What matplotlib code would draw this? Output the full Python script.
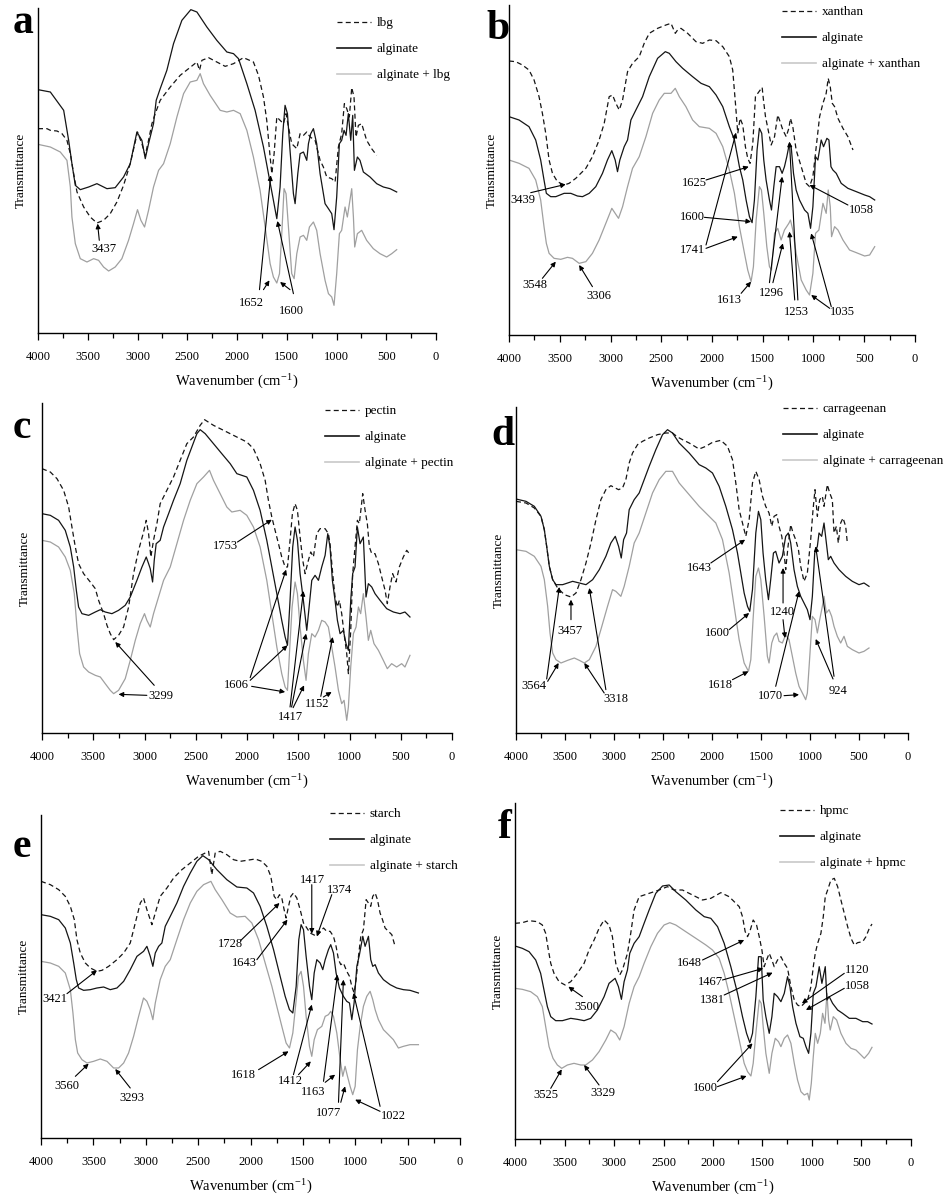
import matplotlib
matplotlib.use("Agg")
import matplotlib.pyplot as plt
from matplotlib.ticker import MultipleLocator
from matplotlib.lines import Line2D

plt.rcParams['font.family'] = ['Liberation Serif', 'DejaVu Serif']
plt.rcParams['mathtext.fontset'] = 'stix'

# FTIR spectra, (wavenumber cm-1, transmittance in arbitrary units)

# panel a - locust bean gum
a_lbg = [(4000, 61.3), (3910, 61.3), (3876, 60.8), (3809, 60.6), (3759, 59.8), (3709, 57.8), (3675, 53.8), (3642, 47.8),
         (3608, 42.3), (3541, 37.8), (3475, 34.8), (3408, 33.0), (3341, 33.8), (3274, 35.8), (3207, 39.3), (3140, 44.3),
         (3073, 50.8), (3000, 60.3), (2956, 56.8), (2922, 53.3), (2889, 57.8), (2855, 62.8), (2822, 65.8), (2772, 69.8),
         (2671, 73.8), (2571, 77.3), (2487, 79.3), (2403, 81.3), (2377, 78.8), (2353, 81.8), (2286, 82.6), (2203, 81.3),
         (2119, 80.0), (2035, 80.8), (1935, 82.6), (1835, 81.3), (1784, 77.3), (1734, 70.8), (1701, 63.8), (1667, 52.8),
         (1650, 47.8), (1627, 53.8), (1600, 64.8), (1567, 63.8), (1533, 62.8), (1507, 65.8), (1483, 61.8), (1450, 56.8),
         (1399, 55.3), (1366, 59.8), (1332, 59.3), (1299, 60.3), (1265, 58.8), (1215, 57.8), (1165, 51.8), (1132, 49.8),
         (1098, 46.8), (1048, 46.3), (1014, 45.3), (981, 55.8), (948, 59.8), (921, 68.8), (897, 67.3), (871, 64.8),
         (847, 73.6), (824, 70.8), (804, 58.8), (780, 62.3), (747, 62.8), (697, 57.8), (647, 55.3), (596, 53.3)]
a_alginate = [(4000, 73.0), (3876, 72.3), (3742, 66.8), (3692, 57.8), (3659, 50.8), (3625, 44.3), (3575, 43.0), (3491, 43.8),
              (3408, 44.8), (3307, 43.3), (3224, 43.6), (3140, 46.8), (3073, 50.8), (3006, 60.3), (2956, 57.8), (2922, 52.3),
              (2889, 56.8), (2839, 62.8), (2812, 69.8), (2772, 73.3), (2705, 78.8), (2638, 86.8), (2554, 93.8), (2464, 97.0),
              (2403, 96.3), (2303, 91.8), (2203, 87.8), (2102, 84.3), (2035, 83.8), (1985, 82.3), (1901, 74.8), (1818, 66.8),
              (1734, 55.8), (1684, 47.8), (1634, 39.8), (1600, 34.3), (1567, 43.8), (1540, 59.8), (1517, 68.3), (1493, 65.8),
              (1467, 54.8), (1433, 41.8), (1416, 38.8), (1389, 47.8), (1366, 53.8), (1332, 54.3), (1299, 51.8), (1282, 56.8),
              (1259, 59.8), (1232, 61.3), (1199, 56.8), (1165, 47.8), (1115, 38.8), (1081, 37.3), (1048, 35.8), (1025, 31.0),
              (998, 40.8), (971, 56.8), (948, 57.8), (924, 60.8), (904, 59.3), (881, 65.8), (857, 57.8), (837, 65.3),
              (820, 48.8), (790, 52.8), (764, 51.8), (730, 48.3), (663, 46.8), (596, 44.8), (529, 43.8), (462, 43.3), (395, 42.3)]
a_blend = [(4000, 56.6), (3876, 55.8), (3776, 54.3), (3709, 51.8), (3675, 43.8), (3659, 34.8), (3625, 26.8), (3575, 22.3),
           (3508, 21.3), (3441, 22.3), (3391, 21.8), (3341, 19.8), (3290, 18.6), (3224, 19.8), (3157, 22.3), (3090, 27.8),
           (3040, 32.8), (3000, 37.0), (2966, 33.8), (2929, 31.8), (2889, 36.8), (2839, 43.8), (2788, 48.8), (2738, 50.8),
           (2671, 56.8), (2604, 64.8), (2537, 71.8), (2470, 75.3), (2403, 75.8), (2370, 77.8), (2337, 74.8), (2270, 71.3),
           (2169, 66.8), (2102, 66.3), (2035, 66.8), (1968, 65.8), (1901, 60.8), (1835, 52.8), (1768, 42.8), (1717, 31.8),
           (1667, 20.8), (1634, 16.8), (1600, 15.0), (1573, 17.8), (1550, 29.8), (1527, 43.3), (1507, 41.8), (1483, 31.8),
           (1450, 17.8), (1426, 16.3), (1399, 23.8), (1366, 28.8), (1332, 29.3), (1299, 27.8), (1272, 31.8), (1232, 33.3),
           (1199, 30.8), (1165, 23.8), (1115, 15.8), (1081, 11.8), (1048, 10.8), (1025, 8.3), (998, 17.8), (971, 29.8),
           (948, 30.8), (914, 37.8), (891, 34.8), (847, 43.3), (830, 34.8), (817, 25.8), (790, 29.8), (747, 30.8),
           (697, 27.8), (630, 25.3), (563, 23.8), (496, 22.8), (445, 23.8), (395, 25.0)]

# panel b - xanthan
b_xanthan = [(4000, 82.2), (3934, 82.0), (3868, 81.0), (3803, 79.5), (3753, 76.5), (3704, 71.5), (3671, 66.5), (3638, 60.5),
             (3605, 52.5), (3572, 48.5), (3523, 46.0), (3457, 45.0), (3408, 45.5), (3342, 47.0), (3243, 50.0), (3178, 53.5),
             (3112, 58.5), (3062, 63.5), (3013, 71.5), (2980, 72.0), (2947, 69.5), (2914, 67.5), (2881, 70.5), (2832, 79.0),
             (2783, 81.5), (2717, 83.5), (2668, 87.5), (2618, 90.5), (2536, 92.0), (2454, 93.0), (2404, 93.5), (2362, 90.5),
             (2339, 91.5), (2306, 92.0), (2240, 90.5), (2158, 88.0), (2092, 87.5), (2026, 88.5), (1960, 88.3), (1894, 86.5),
             (1829, 83.5), (1796, 79.5), (1769, 69.5), (1746, 60.5), (1723, 65.0), (1697, 63.0), (1671, 56.5), (1648, 53.0),
             (1625, 51.5), (1598, 57.5), (1572, 71.5), (1549, 72.5), (1506, 74.3), (1493, 70.5), (1473, 65.5), (1440, 60.5),
             (1417, 57.0), (1384, 59.5), (1352, 66.0), (1329, 64.0), (1302, 61.5), (1269, 59.5), (1243, 62.0), (1227, 65.0),
             (1204, 62.5), (1171, 55.5), (1121, 50.5), (1072, 45.5), (1039, 44.5), (1006, 47.5), (973, 56.5), (940, 65.5),
             (907, 69.5), (875, 72.5), (855, 77.0), (835, 74.5), (815, 69.5), (792, 68.5), (759, 65.0), (710, 62.0),
             (661, 59.5), (611, 55.5)]
b_alginate = [(4000, 65.5), (3901, 64.5), (3803, 62.5), (3737, 58.5), (3688, 52.5), (3655, 46.5), (3632, 42.5), (3589, 41.5),
              (3539, 41.5), (3457, 42.5), (3391, 42.5), (3326, 41.7), (3276, 41.5), (3210, 42.5), (3145, 44.5), (3079, 48.5),
              (3030, 52.5), (2987, 55.3), (2954, 52.5), (2931, 49.0), (2908, 52.5), (2865, 56.5), (2832, 58.5), (2799, 64.5),
              (2750, 67.5), (2684, 71.5), (2618, 77.5), (2536, 83.0), (2460, 85.0), (2421, 84.5), (2355, 82.0), (2289, 80.0),
              (2191, 77.5), (2108, 75.5), (2026, 74.5), (1960, 72.0), (1894, 68.5), (1829, 62.5), (1779, 58.5), (1730, 50.5),
              (1697, 46.5), (1664, 40.5), (1631, 35.5), (1605, 33.7), (1582, 40.5), (1556, 55.5), (1533, 62.0), (1510, 60.5),
              (1490, 52.5), (1467, 46.5), (1434, 40.5), (1414, 37.5), (1391, 44.5), (1368, 50.5), (1335, 50.5), (1309, 48.5),
              (1286, 50.5), (1263, 53.5), (1237, 57.5), (1220, 56.5), (1197, 48.5), (1171, 43.5), (1138, 40.5), (1088, 37.5),
              (1055, 36.5), (1029, 32.0), (1006, 38.5), (980, 53.5), (957, 52.5), (924, 58.5), (901, 56.5), (868, 59.0),
              (848, 58.5), (828, 50.5), (809, 49.5), (776, 48.5), (727, 45.5), (661, 44.0), (578, 43.0), (496, 42.0),
              (447, 41.5), (397, 40.5)]
b_blend = [(4000, 52.5), (3901, 51.5), (3803, 50.0), (3737, 46.5), (3688, 40.5), (3655, 32.5), (3632, 27.5), (3605, 24.5),
           (3556, 23.0), (3490, 22.7), (3424, 23.3), (3375, 23.0), (3309, 21.5), (3243, 22.0), (3178, 24.5), (3112, 28.5),
           (3046, 33.5), (2987, 38.0), (2954, 36.5), (2921, 35.0), (2881, 38.5), (2832, 44.5), (2783, 50.0), (2717, 53.5),
           (2651, 59.5), (2585, 66.5), (2520, 70.5), (2470, 72.5), (2404, 72.5), (2362, 74.0), (2322, 71.5), (2257, 68.5),
           (2191, 64.5), (2125, 62.5), (2026, 62.0), (1960, 60.5), (1894, 56.5), (1829, 49.5), (1779, 42.5), (1730, 32.5),
           (1680, 24.5), (1648, 19.5), (1615, 16.0), (1592, 20.5), (1565, 34.5), (1533, 44.5), (1513, 43.5), (1490, 36.5),
           (1460, 26.5), (1434, 20.5), (1414, 19.5), (1384, 30.5), (1352, 32.0), (1319, 28.5), (1286, 31.5), (1243, 33.5),
           (1227, 34.5), (1204, 31.5), (1171, 24.5), (1121, 16.5), (1072, 13.5), (1039, 12.0), (1006, 18.5), (980, 30.5),
           (947, 31.5), (907, 39.5), (875, 36.5), (855, 43.5), (835, 38.5), (822, 29.5), (792, 32.5), (759, 31.5),
           (710, 28.5), (645, 25.5), (578, 24.7), (496, 23.7), (447, 24.0), (397, 26.5)]

# panel c - pectin
c_pectin = [(4000, 79.3), (3919, 78.3), (3854, 76.3), (3789, 72.8), (3740, 67.8), (3708, 61.8), (3675, 55.8), (3643, 50.8),
            (3594, 47.8), (3529, 45.3), (3480, 43.3), (3448, 39.8), (3399, 35.8), (3366, 32.3), (3334, 29.8), (3301, 28.0),
            (3253, 29.3), (3204, 31.8), (3155, 37.8), (3107, 47.8), (3058, 54.8), (3009, 60.3), (2983, 63.8), (2960, 59.8),
            (2938, 52.8), (2912, 57.8), (2879, 62.8), (2847, 68.8), (2782, 72.8), (2717, 76.8), (2652, 81.8), (2587, 86.8),
            (2522, 88.8), (2457, 92.3), (2414, 94.0), (2327, 92.3), (2229, 90.8), (2132, 89.3), (2002, 87.3), (1937, 85.3),
            (1872, 80.8), (1823, 75.8), (1791, 69.8), (1758, 64.8), (1726, 60.8), (1693, 56.8), (1661, 52.8), (1628, 49.8),
            (1605, 49.8), (1580, 57.8), (1557, 65.8), (1531, 68.8), (1508, 66.8), (1482, 58.8), (1456, 51.8), (1433, 47.8),
            (1401, 51.8), (1378, 54.3), (1352, 52.8), (1320, 59.8), (1287, 61.3), (1238, 61.3), (1206, 59.8), (1190, 56.8),
            (1164, 47.8), (1141, 40.8), (1118, 37.8), (1099, 39.8), (1076, 35.8), (1053, 29.8), (1027, 23.8), (1011, 17.8),
            (988, 30.8), (969, 47.8), (946, 55.8), (923, 63.8), (904, 62.8), (871, 71.8), (848, 66.8), (826, 62.8),
            (806, 55.8), (783, 53.8), (751, 53.8), (718, 50.8), (686, 46.8), (653, 42.8), (631, 38.8), (605, 43.8),
            (579, 47.8), (546, 45.3), (514, 49.8), (475, 52.8), (442, 54.8), (416, 53.8)]
c_alginate = [(4000, 65.8), (3919, 65.3), (3838, 63.8), (3773, 60.8), (3724, 55.8), (3691, 49.8), (3665, 42.8), (3643, 37.8),
              (3610, 35.8), (3545, 35.3), (3480, 36.3), (3431, 37.0), (3383, 36.3), (3318, 35.8), (3253, 36.8), (3188, 38.3),
              (3139, 40.8), (3074, 45.8), (3025, 49.8), (2983, 52.8), (2960, 50.8), (2944, 49.3), (2921, 45.3), (2905, 51.8),
              (2886, 56.8), (2847, 57.8), (2814, 61.8), (2765, 65.8), (2717, 69.8), (2652, 74.8), (2587, 81.8), (2538, 85.8),
              (2489, 89.8), (2457, 91.0), (2408, 89.8), (2327, 86.8), (2246, 83.8), (2164, 80.8), (2099, 77.8), (2002, 76.8),
              (1937, 72.8), (1872, 66.8), (1807, 57.8), (1758, 49.8), (1709, 41.8), (1661, 33.8), (1628, 28.8), (1605, 26.3),
              (1580, 39.8), (1554, 55.8), (1531, 61.8), (1508, 57.8), (1482, 47.8), (1450, 39.8), (1417, 30.8), (1394, 37.8),
              (1368, 45.8), (1336, 47.3), (1303, 45.8), (1271, 49.8), (1238, 53.3), (1212, 59.8), (1190, 55.8), (1167, 45.8),
              (1141, 39.8), (1118, 33.8), (1092, 29.8), (1060, 30.8), (1034, 26.8), (1011, 24.8), (988, 39.8), (969, 47.8),
              (946, 49.8), (923, 61.8), (897, 56.8), (865, 58.8), (839, 40.8), (816, 44.8), (783, 43.8), (751, 41.8),
              (702, 39.8), (637, 37.3), (572, 36.3), (507, 35.8), (459, 36.3), (410, 34.8)]
c_blend = [(4000, 57.8), (3919, 57.3), (3838, 55.8), (3773, 52.8), (3724, 48.8), (3685, 41.8), (3659, 31.8), (3633, 23.8),
           (3594, 19.8), (3545, 18.3), (3480, 17.3), (3431, 16.8), (3383, 14.8), (3334, 12.8), (3301, 11.8), (3253, 12.8),
           (3188, 16.3), (3139, 21.8), (3090, 27.8), (3042, 32.8), (3000, 35.8), (2977, 33.8), (2944, 31.8), (2912, 35.8),
           (2863, 40.8), (2814, 45.8), (2749, 49.8), (2684, 56.8), (2619, 63.8), (2554, 69.8), (2489, 74.8), (2424, 76.8),
           (2366, 78.8), (2327, 75.8), (2262, 71.8), (2197, 67.8), (2148, 66.3), (2067, 66.8), (2002, 65.3), (1937, 61.8),
           (1872, 55.8), (1807, 45.8), (1758, 35.8), (1709, 25.8), (1661, 17.8), (1628, 13.8), (1605, 12.8), (1586, 23.8),
           (1560, 37.8), (1531, 45.3), (1508, 41.8), (1482, 31.8), (1450, 21.8), (1424, 15.8), (1401, 23.8), (1368, 29.8),
           (1336, 28.8), (1303, 30.8), (1271, 33.8), (1238, 33.3), (1206, 31.8), (1173, 25.8), (1141, 19.8), (1108, 12.8),
           (1076, 8.8), (1053, 9.8), (1027, 3.8), (1011, 7.8), (988, 19.8), (962, 29.8), (936, 31.8), (913, 37.8),
           (891, 35.8), (865, 41.8), (839, 34.8), (816, 27.8), (793, 30.8), (761, 26.8), (718, 24.8), (670, 21.8),
           (631, 19.3), (589, 20.8), (540, 19.8), (491, 20.8), (459, 19.8), (410, 23.3)]

# panel d - carrageenan
d_carrageenan = [(4000, 69.5), (3898, 69.0), (3813, 67.5), (3745, 65.0), (3711, 61.0), (3687, 56.0), (3660, 50.0), (3626, 46.0),
                 (3575, 43.5), (3507, 41.5), (3439, 40.8), (3388, 42.0), (3337, 46.0), (3286, 51.0), (3235, 57.0), (3184, 64.0),
                 (3134, 70.0), (3083, 73.0), (3032, 74.2), (2987, 73.5), (2953, 73.0), (2913, 73.5), (2879, 76.0), (2845, 81.0),
                 (2811, 84.0), (2760, 86.5), (2709, 87.5), (2641, 88.5), (2556, 89.5), (2471, 90.0), (2403, 90.0), (2352, 88.8),
                 (2301, 88.0), (2233, 87.0), (2131, 85.2), (2063, 86.0), (1995, 87.2), (1910, 87.8), (1842, 86.0), (1791, 82.0),
                 (1757, 75.0), (1723, 67.0), (1689, 63.0), (1655, 59.0), (1621, 64.0), (1587, 75.0), (1553, 78.5), (1519, 76.0),
                 (1485, 71.0), (1452, 68.0), (1418, 66.0), (1390, 62.0), (1367, 65.0), (1339, 65.5), (1316, 62.0), (1288, 59.0),
                 (1265, 54.0), (1248, 49.0), (1224, 56.0), (1197, 62.5), (1173, 60.0), (1146, 58.0), (1118, 55.0), (1095, 50.0),
                 (1061, 45.5), (1027, 48.0), (993, 58.0), (969, 67.0), (949, 73.0), (925, 65.0), (901, 70.0), (874, 71.0),
                 (857, 68.0), (823, 74.5), (799, 72.0), (772, 70.0), (755, 60.0), (731, 62.0), (711, 57.0), (687, 63.0),
                 (663, 64.5), (636, 62.0), (619, 57.0)]
d_alginate = [(4000, 70.2), (3898, 69.5), (3813, 68.0), (3745, 65.0), (3711, 61.0), (3687, 56.0), (3660, 50.0), (3626, 46.0),
              (3592, 44.5), (3524, 44.5), (3422, 45.5), (3354, 45.0), (3286, 44.5), (3218, 46.0), (3150, 49.0), (3083, 53.0),
              (3032, 57.0), (2987, 59.0), (2953, 56.0), (2926, 52.5), (2902, 58.0), (2872, 60.0), (2845, 67.0), (2794, 70.0),
              (2743, 72.0), (2692, 76.0), (2641, 80.0), (2573, 85.0), (2505, 89.5), (2454, 91.0), (2403, 90.0), (2335, 87.0),
              (2233, 84.0), (2131, 80.5), (2063, 79.5), (1995, 78.0), (1927, 74.0), (1859, 68.0), (1791, 61.0), (1740, 54.0),
              (1706, 48.0), (1672, 42.0), (1638, 38.0), (1615, 36.5), (1587, 43.0), (1553, 60.0), (1526, 66.5), (1502, 64.0),
              (1479, 54.0), (1452, 46.0), (1424, 40.0), (1401, 46.0), (1373, 54.0), (1350, 54.5), (1316, 51.0), (1282, 53.0),
              (1248, 59.0), (1221, 60.0), (1197, 57.0), (1163, 49.0), (1129, 44.0), (1095, 41.0), (1061, 39.0), (1027, 37.0),
              (1000, 34.0), (976, 41.0), (952, 54.0), (925, 56.0), (908, 60.0), (881, 59.0), (857, 63.0), (833, 57.0),
              (813, 52.0), (789, 53.0), (755, 51.0), (704, 49.0), (636, 47.0), (568, 45.5), (500, 44.5), (449, 45.0),
              (398, 44.0)]
d_blend = [(4000, 55.0), (3898, 54.5), (3813, 53.0), (3745, 50.0), (3711, 46.0), (3677, 38.0), (3653, 30.0), (3626, 24.0),
           (3592, 22.0), (3541, 21.0), (3473, 21.8), (3405, 22.5), (3354, 21.8), (3303, 21.0), (3252, 22.0), (3184, 26.0),
           (3134, 31.0), (3066, 38.0), (3015, 43.0), (2981, 42.5), (2930, 41.0), (2896, 44.0), (2845, 50.0), (2794, 57.0),
           (2743, 60.0), (2675, 66.0), (2607, 72.0), (2539, 76.0), (2471, 78.5), (2403, 78.5), (2335, 75.0), (2233, 71.5),
           (2131, 68.0), (2029, 65.0), (1961, 63.0), (1893, 58.0), (1825, 48.0), (1774, 38.0), (1723, 28.0), (1672, 21.0),
           (1628, 18.5), (1604, 22.0), (1581, 34.0), (1553, 47.0), (1526, 49.5), (1502, 46.0), (1468, 35.0), (1435, 23.0),
           (1418, 21.0), (1390, 27.0), (1367, 29.0), (1339, 30.0), (1316, 27.5), (1282, 27.0), (1248, 29.5), (1214, 28.0),
           (1180, 23.0), (1146, 18.0), (1112, 14.0), (1078, 12.0), (1044, 10.0), (1027, 12.0), (1000, 24.0), (976, 35.0),
           (949, 34.0), (925, 30.0), (901, 34.0), (874, 38.0), (857, 41.0), (833, 36.0), (806, 37.0), (779, 35.0),
           (755, 32.0), (721, 29.0), (687, 27.0), (653, 29.0), (619, 26.0), (568, 25.0), (500, 24.0), (449, 24.5),
           (398, 25.5)]

# panel e - starch
e_starch = [(4000, 77.0), (3911, 76.0), (3831, 74.5), (3768, 72.5), (3720, 69.5), (3682, 65.5), (3657, 59.5), (3625, 55.5),
            (3577, 52.5), (3529, 51.0), (3466, 50.0), (3418, 50.3), (3354, 51.5), (3275, 53.5), (3211, 55.5), (3148, 58.5),
            (3100, 64.5), (3052, 70.5), (3021, 72.0), (2989, 68.5), (2941, 64.0), (2909, 67.5), (2862, 72.5), (2798, 75.0),
            (2734, 78.0), (2655, 80.5), (2575, 82.5), (2496, 84.5), (2432, 85.5), (2400, 86.0), (2369, 79.0), (2337, 85.5),
            (2289, 86.0), (2226, 85.0), (2162, 83.5), (2098, 83.0), (2035, 83.3), (1955, 83.7), (1892, 83.0), (1844, 81.5),
            (1806, 78.5), (1774, 72.5), (1749, 71.5), (1723, 73.0), (1701, 72.0), (1679, 68.5), (1660, 66.0), (1637, 69.5),
            (1615, 72.5), (1590, 73.5), (1558, 72.0), (1526, 68.5), (1494, 64.5), (1462, 63.0), (1431, 61.5), (1399, 61.0),
            (1367, 60.5), (1335, 62.0), (1303, 63.0), (1272, 62.0), (1240, 62.0), (1208, 60.5), (1183, 57.5), (1160, 53.5),
            (1138, 52.0), (1113, 52.5), (1081, 50.0), (1055, 48.5), (1033, 45.5), (1011, 43.5), (992, 47.5), (969, 54.5),
            (947, 60.5), (922, 62.5), (896, 71.5), (874, 70.5), (852, 69.5), (833, 72.5), (810, 73.5), (788, 71.5),
            (763, 67.5), (740, 65.5), (715, 63.0), (683, 62.0), (651, 61.0), (620, 57.5)]
e_alginate = [(4000, 67.0), (3911, 66.5), (3831, 65.5), (3768, 63.0), (3720, 58.5), (3688, 52.5), (3663, 47.5), (3641, 45.0),
              (3593, 44.3), (3529, 44.5), (3466, 45.0), (3402, 45.3), (3339, 44.5), (3275, 45.0), (3211, 47.0), (3148, 50.5),
              (3084, 54.5), (3021, 56.0), (2989, 57.5), (2957, 54.5), (2932, 51.5), (2909, 55.5), (2877, 57.5), (2846, 58.5),
              (2814, 63.5), (2766, 66.5), (2703, 70.5), (2639, 75.5), (2575, 79.5), (2512, 83.0), (2455, 84.7), (2400, 83.5),
              (2321, 80.5), (2226, 77.5), (2130, 75.3), (2035, 75.0), (1971, 73.5), (1908, 69.5), (1844, 63.5), (1780, 56.5),
              (1717, 48.5), (1669, 42.5), (1628, 38.5), (1596, 37.5), (1564, 45.5), (1539, 59.5), (1517, 64.0), (1494, 62.5),
              (1469, 54.5), (1437, 45.5), (1415, 41.5), (1392, 49.5), (1367, 53.5), (1335, 52.5), (1310, 50.5), (1287, 53.5),
              (1256, 56.5), (1234, 58.0), (1208, 55.5), (1183, 49.5), (1151, 45.0), (1113, 42.5), (1081, 41.0), (1055, 40.5),
              (1033, 35.5), (1011, 40.5), (985, 51.5), (960, 55.0), (928, 60.5), (906, 57.5), (874, 60.5), (852, 53.5),
              (833, 51.5), (810, 52.0), (779, 49.5), (731, 47.5), (667, 46.0), (604, 45.0), (540, 44.5), (477, 44.3),
              (397, 43.5)]
e_blend = [(4000, 53.0), (3911, 52.5), (3831, 51.5), (3768, 49.5), (3720, 44.5), (3695, 37.5), (3672, 29.5), (3650, 25.5),
           (3609, 23.5), (3561, 22.5), (3498, 23.0), (3434, 23.7), (3370, 23.0), (3307, 21.0), (3259, 21.0), (3211, 22.5),
           (3164, 25.5), (3116, 30.5), (3068, 36.5), (3021, 42.0), (2989, 41.0), (2957, 38.5), (2932, 35.5), (2909, 40.5),
           (2862, 47.5), (2814, 51.5), (2766, 53.5), (2703, 59.5), (2639, 65.5), (2575, 70.5), (2512, 74.0), (2448, 76.0),
           (2378, 77.0), (2337, 74.5), (2273, 71.5), (2194, 67.5), (2130, 66.3), (2051, 66.5), (1987, 64.5), (1923, 59.5),
           (1860, 52.5), (1796, 45.5), (1749, 39.5), (1701, 33.5), (1660, 28.5), (1628, 27.0), (1596, 31.5), (1570, 39.5),
           (1542, 48.5), (1517, 50.0), (1494, 45.5), (1469, 36.5), (1437, 27.5), (1415, 24.5), (1392, 29.5), (1361, 32.5),
           (1319, 33.5), (1287, 36.5), (1256, 37.0), (1234, 38.0), (1208, 36.5), (1176, 31.5), (1144, 23.5), (1119, 18.5),
           (1097, 21.5), (1074, 18.5), (1049, 15.5), (1024, 13.0), (1001, 15.5), (979, 26.5), (953, 33.5), (922, 39.5),
           (890, 42.5), (858, 44.0), (833, 41.5), (810, 38.5), (779, 35.5), (731, 32.5), (683, 31.0), (636, 29.5),
           (588, 27.0), (540, 27.5), (477, 28.0), (397, 28.0)]

# panel f - hpmc
f_hpmc = [(4000, 64.7), (3926, 64.9), (3858, 65.5), (3774, 65.2), (3724, 64.2), (3690, 61.7), (3663, 56.7), (3639, 52.7),
          (3606, 49.7), (3555, 47.2), (3494, 46.2), (3437, 47.2), (3370, 49.7), (3302, 52.7), (3252, 56.7), (3201, 59.7),
          (3151, 63.2), (3100, 65.7), (3050, 64.2), (3016, 60.7), (2982, 52.7), (2942, 49.2), (2915, 50.7), (2864, 55.7),
          (2831, 61.7), (2797, 68.7), (2746, 72.7), (2645, 73.7), (2544, 74.7), (2460, 75.7), (2393, 74.7), (2308, 74.7),
          (2207, 73.2), (2106, 71.7), (2022, 72.2), (1921, 73.9), (1837, 72.7), (1735, 69.7), (1702, 66.7), (1675, 62.2),
          (1651, 60.7), (1628, 62.2), (1594, 65.7), (1560, 64.2), (1533, 60.7), (1506, 56.7), (1483, 51.7), (1459, 53.7),
          (1432, 55.7), (1405, 53.7), (1382, 51.7), (1348, 53.7), (1314, 54.7), (1280, 52.7), (1247, 51.2), (1213, 45.7),
          (1179, 41.7), (1146, 40.2), (1112, 39.7), (1078, 40.7), (1044, 41.7), (1011, 45.7), (987, 51.7), (967, 55.7),
          (943, 58.7), (910, 61.7), (886, 66.7), (866, 72.7), (842, 74.7), (809, 77.7), (775, 78.2), (741, 75.7),
          (708, 71.7), (674, 67.7), (640, 63.7), (606, 60.2), (573, 58.2), (539, 58.9), (488, 59.2), (455, 60.7),
          (421, 63.2), (394, 64.5)]
f_alginate = [(4000, 57.9), (3926, 57.2), (3858, 56.2), (3791, 53.7), (3741, 49.7), (3707, 44.7), (3673, 39.7), (3639, 36.7),
              (3589, 35.5), (3521, 35.5), (3437, 36.2), (3370, 35.9), (3302, 35.5), (3235, 36.2), (3168, 38.7), (3100, 42.7),
              (3050, 46.7), (2989, 48.2), (2955, 45.7), (2925, 41.9), (2898, 47.2), (2864, 50.7), (2841, 55.7), (2797, 58.7),
              (2746, 60.7), (2696, 64.7), (2645, 68.7), (2578, 73.7), (2510, 75.9), (2443, 76.2), (2376, 74.2), (2275, 71.7),
              (2173, 68.7), (2089, 66.7), (2022, 66.2), (1954, 63.7), (1887, 58.7), (1820, 51.7), (1752, 43.7), (1702, 36.7),
              (1661, 31.7), (1628, 28.9), (1601, 31.7), (1567, 42.7), (1540, 54.7), (1513, 54.7), (1493, 41.7), (1466, 36.7),
              (1432, 31.7), (1405, 36.7), (1382, 43.7), (1348, 42.7), (1314, 41.2), (1280, 43.7), (1247, 48.7), (1223, 45.7),
              (1196, 39.7), (1162, 34.7), (1122, 30.7), (1088, 30.2), (1061, 27.7), (1034, 25.7), (1011, 31.7), (987, 43.7),
              (960, 45.7), (927, 51.7), (900, 46.7), (866, 51.7), (849, 41.7), (826, 42.7), (792, 40.7), (741, 38.7),
              (691, 37.7), (623, 36.2), (556, 36.2), (488, 35.2), (438, 35.2), (394, 34.5)]
f_blend = [(4000, 45.2), (3926, 44.9), (3842, 44.2), (3774, 42.7), (3724, 39.7), (3690, 33.7), (3656, 27.7), (3616, 24.2),
           (3572, 22.2), (3528, 21.2), (3471, 22.2), (3404, 22.7), (3336, 22.2), (3286, 22.2), (3218, 23.7), (3151, 26.2),
           (3083, 29.7), (3033, 32.7), (2982, 31.7), (2942, 29.7), (2898, 33.7), (2847, 40.7), (2797, 45.7), (2746, 48.7),
           (2696, 52.7), (2628, 57.7), (2561, 61.7), (2494, 64.2), (2436, 64.9), (2376, 64.2), (2275, 62.2), (2173, 60.2),
           (2072, 58.2), (2005, 56.7), (1938, 54.2), (1887, 49.7), (1837, 43.7), (1786, 36.7), (1735, 29.7), (1685, 22.7),
           (1651, 20.2), (1617, 18.9), (1594, 22.7), (1567, 31.7), (1533, 41.7), (1513, 40.7), (1493, 33.7), (1466, 25.7),
           (1432, 19.7), (1405, 25.7), (1371, 30.2), (1338, 29.2), (1314, 27.7), (1280, 30.2), (1247, 31.2), (1213, 28.7),
           (1179, 22.7), (1146, 17.7), (1112, 14.2), (1078, 13.2), (1044, 13.7), (1028, 11.7), (1007, 16.7), (987, 24.7),
           (967, 31.7), (943, 28.7), (916, 31.7), (893, 37.7), (869, 34.7), (849, 43.7), (832, 35.7), (816, 32.7),
           (785, 36.7), (751, 35.7), (708, 31.7), (657, 28.7), (606, 27.2), (556, 26.7), (505, 25.2), (472, 24.2),
           (428, 25.7), (394, 27.5)]

sample_names = ['lbg', 'xanthan', 'pectin', 'carrageenan', 'starch', 'hpmc']
panel_letters = ['a', 'b', 'c', 'd', 'e', 'f']
sample_data = [a_lbg, b_xanthan, c_pectin, d_carrageenan, e_starch, f_hpmc]
alginate_data = [a_alginate, b_alginate, c_alginate, d_alginate, e_alginate, f_alginate]
blend_data = [a_blend, b_blend, c_blend, d_blend, e_blend, f_blend]

# peak labels: (label, text position, [(arrow start, arrow tip), ...])
a_notes = [('3437', (3340, 25.3), [((3384, 27.8), (3401, 32.8))]),
           ('1652', (1860, 9.0), [((1774, 13.0), (1661, 47.3)), ((1734, 13.0), (1674, 15.8))]),
           ('1600', (1450, 6.7), [((1433, 11.8), (1594, 33.6)), ((1467, 13.0), (1567, 15.3))])]
b_notes = [('3439', (3868, 40.5), [((3786, 42.7), (3441, 45.2))]),
           ('1625', (2174, 45.7), [((2059, 46.5), (1638, 50.5))]),
           ('1600', (2190, 35.5), [((2075, 35.3), (1615, 34.0))]),
           ('1741', (2190, 25.5), [((2059, 27.0), (1763, 60.7)), ((2059, 26.0), (1746, 29.5))]),
           ('3548', (3743, 15.0), [((3671, 17.0), (3539, 22.0))]),
           ('3306', (3112, 11.7), [((3178, 14.5), (3309, 21.0))]),
           ('1613', (1829, 10.5), [((1713, 12.5), (1615, 16.0))]),
           ('1296', (1417, 12.5), [((1434, 15.7), (1309, 47.5)), ((1400, 15.7), (1302, 27.5))]),
           ('1253', (1171, 7.0), [((1154, 10.5), (1237, 58.0)), ((1185, 10.5), (1237, 31.0))]),
           ('1035', (717, 7.0), [((825, 8.5), (1023, 30.5)), ((840, 8.0), (1023, 12.0))]),
           ('1058', (529, 37.5), [((661, 39.0), (1039, 45.0))])]
c_notes = [('3299', (2840, 11.0), [((2905, 14.3), (3285, 27.3)), ((2977, 11.3), (3253, 11.6))]),
           ('1753', (2213, 56.0), [((2093, 57.3), (1758, 64.0))]),
           ('1606', (2106, 14.3), [((1969, 16.6), (1618, 49.0)), ((1969, 15.8), (1605, 26.3)),
                                   ((1955, 14.0), (1628, 12.3))]),
           ('1417', (1580, 4.8), [((1580, 7.8), (1450, 42.6)), ((1565, 7.8), (1424, 29.8)),
                                  ((1550, 7.6), (1443, 14.3))]),
           ('1152', (1320, 8.8), [((1280, 11.0), (1164, 28.8)), ((1255, 10.8), (1174, 12.3))])]
d_notes = [('3457', (3446, 30.7), [((3439, 34.0), (3439, 40.0))]),
           ('3564', (3813, 14.2), [((3687, 16.2), (3558, 43.8)), ((3677, 15.5), (3565, 21.0))]),
           ('3318', (2981, 10.2), [((3083, 13.0), (3252, 43.5)), ((3100, 12.0), (3303, 21.0))]),
           ('1643', (2131, 49.5), [((2012, 51.0), (1662, 58.0))]),
           ('1600', (1941, 30.0), [((1825, 31.0), (1621, 36.0))]),
           ('1618', (1910, 14.5), [((1791, 16.0), (1628, 18.5))]),
           ('1240', (1282, 36.3), [((1275, 39.0), (1275, 49.5)), ((1275, 34.0), (1255, 28.5))]),
           ('1070', (1401, 11.0), [((1350, 14.0), (1112, 42.5)), ((1265, 11.2), (1112, 11.5))]),
           ('924', (711, 12.7), [((755, 17.0), (942, 56.0)), ((765, 16.2), (942, 28.2))])]
e_notes = [('3421', (3863, 41.7), [((3752, 43.3), (3466, 50.3))]),
           ('3560', (3752, 15.5), [((3672, 18.5), (3545, 22.3))]),
           ('3293', (3132, 12.0), [((3148, 15.0), (3291, 20.7))]),
           ('1728', (2194, 58.3), [((2092, 59.3), (1723, 70.5))]),
           ('1643', (2060, 52.5), [((1939, 53.5), (1647, 65.5))]),
           ('1417', (1405, 77.5), [((1415, 76.0), (1415, 61.3))]),
           ('1374', (1151, 74.5), [((1224, 73.0), (1367, 60.5))]),
           ('1618', (2067, 19.0), [((1923, 20.5), (1637, 26.0))]),
           ('1412', (1621, 17.0), [((1590, 19.0), (1415, 40.0)), ((1542, 19.0), (1424, 23.0))]),
           ('1163', (1399, 13.7), [((1303, 17.0), (1170, 49.0)), ((1287, 16.7), (1192, 19.0))]),
           ('1077', (1256, 7.5), [((1160, 10.7), (1113, 47.5)), ((1138, 10.7), (1097, 15.5))]),
           ('1022', (636, 6.5), [((763, 9.5), (1017, 43.5)), ((763, 8.0), (1001, 11.5))])]
f_notes = [('3500', (3269, 39.5), [((3319, 42.7), (3461, 45.7))]),
           ('3525', (3690, 13.2), [((3639, 15.2), (3528, 20.9))]),
           ('3329', (3117, 13.7), [((3151, 16.2), (3302, 22.2))]),
           ('1648', (2241, 52.7), [((2106, 53.7), (1685, 59.7))]),
           ('1467', (2022, 47.2), [((1904, 47.7), (1493, 51.2))]),
           ('1381', (2005, 41.7), [((1887, 43.2), (1398, 49.9))]),
           ('1120', (539, 50.7), [((674, 49.7), (1102, 40.7))]),
           ('1058', (539, 45.9), [((674, 45.2), (1061, 38.7))]),
           ('1600', (2079, 15.2), [((1955, 17.2), (1601, 28.7)), ((1955, 15.7), (1661, 18.9))])]
notes = [a_notes, b_notes, c_notes, d_notes, e_notes, f_notes]

# layout, figure pixels: left, top, right, bottom of each axes
boxes = [(38, 8, 436, 333), (509, 5, 915, 335), (42, 403, 452, 733),
         (516, 407, 908, 733), (41, 815, 460, 1138), (515, 803, 911, 1139)]
letter_pos = [(13, 33), (486, 39), (13, 438), (491, 445), (13, 857), (498, 838)]
legend_pos = [(337, 24), (782, 13), (325, 412), (783, 410), (330, 815), (780, 812)]

W, H = 952, 1200
BLACK = '#151515'
GRAY = '#a0a0a0'
DASH = (0, (4, 2.6))

fig = plt.figure(figsize=(W / 100, H / 100), dpi=100)

for i in range(6):
    l, t, r, b = boxes[i]
    ax = fig.add_axes([l / W, 1 - b / H, (r - l) / W, (b - t) / H])
    ymax = (b - t) * 0.3

    for series, color, ls in [(blend_data[i], GRAY, '-'), (alginate_data[i], BLACK, '-'), (sample_data[i], BLACK, DASH)]:
        wn, tr = zip(*series)
        ax.plot(wn, tr, color=color, lw=0.9, ls=ls)

    ax.set_xlim(4000, 0)
    ax.set_ylim(0, ymax)
    ax.xaxis.set_major_locator(MultipleLocator(500))
    ax.xaxis.set_minor_locator(MultipleLocator(250))
    ax.tick_params(axis='x', which='major', length=5, width=0.9, labelsize=9, pad=8, direction='out')
    ax.tick_params(axis='x', which='minor', length=3.5, width=0.9, direction='out')
    ax.set_yticks([])
    for side in ['top', 'right']:
        ax.spines[side].set_visible(False)
    for side in ['left', 'bottom']:
        ax.spines[side].set_linewidth(1.0)
    ax.set_xlabel('Wavenumber (cm$^{\\mathregular{-1}}$)', fontsize=10.5, labelpad=6)
    ax.set_ylabel('Transmittance', fontsize=9.5, labelpad=8)

    for label, (tx, ty), arrows in notes[i]:
        ax.text(tx, ty, label, fontsize=9, ha='center', va='center')
        for start, tip in arrows:
            ax.annotate('', xy=tip, xytext=start,
                        arrowprops=dict(arrowstyle='-|>', color='black', lw=0.8,
                                        mutation_scale=7, shrinkA=0, shrinkB=0))

    handles = [Line2D([], [], color=BLACK, lw=0.9, ls=DASH),
               Line2D([], [], color=BLACK, lw=1.2),
               Line2D([], [], color='#c8c8c8', lw=1.2)]
    labels = [sample_names[i], 'alginate', 'alginate + ' + sample_names[i]]
    hx, hy = legend_pos[i]
    ax.legend(handles, labels, loc='upper left', bbox_to_anchor=(hx / W, 1 - (hy - 7) / H),
              bbox_transform=fig.transFigure, frameon=False, fontsize=9.5, handlelength=2.6,
              handletextpad=0.4, labelspacing=1.05, borderpad=0, borderaxespad=0)

    lx, ly = letter_pos[i]
    fig.text(lx / W, 1 - ly / H, panel_letters[i], fontsize=30, fontweight='bold', va='baseline', ha='left')

fig.savefig('out.png', dpi=100)
